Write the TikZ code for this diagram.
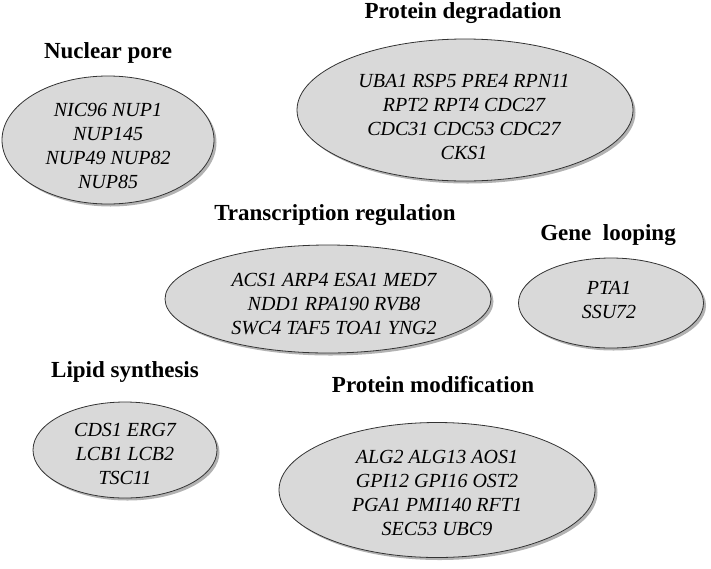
\documentclass[tikz,border=0pt]{standalone}
\usepackage{fontspec}
\setmainfont{Liberation Serif}
\usetikzlibrary{positioning,shapes,shadows}

\begin{document}
\begin{tikzpicture}[x=1pt, y=-1pt,
        grp/.style = {draw=black!80, line width=0.8pt, ellipse, fill=black!15,
                      inner sep=0pt,
                      drop shadow={shadow xshift=2.5pt, shadow yshift=-2.5pt,
                                   fill=black, opacity=.3}},
        ttl/.style = {font=\bfseries\fontsize{23}{26}\selectfont, inner sep=0pt},
        genes/.style = {align=center, inner sep=0pt,
                        font=\itshape\fontsize{20}{24}\selectfont}]
            \useasboundingbox (0,0) rectangle (711,568);
            % nuclear pore
            \node[ttl] (t1) at (108,53) {Nuclear pore};
            \node[grp, minimum width=212pt, minimum height=128pt] (e1) at (108,140) {};
            \node[genes] (g1) at (108,146) {NIC96 NUP1\\ NUP145\\ NUP49 NUP82\\ NUP85};
            % protein degradation
            \node[ttl] (t2) at (463,13) {Protein degradation};
            \node[grp, minimum width=336pt, minimum height=142pt] (e2) at (465,110) {};
            \node[genes] (g2) at (464,117) {UBA1 RSP5 PRE4 RPN11\\ RPT2 RPT4 CDC27\\ CDC31 CDC53 CDC27\\ CKS1};
            % transcription regulation
            \node[ttl] (t3) at (335,215) {Transcription regulation};
            \node[grp, minimum width=326pt, minimum height=108pt] (e3) at (328,299) {};
            \node[genes] (g3) at (334,304) {ACS1 ARP4 ESA1 MED7\\ NDD1 RPA190 RVB8\\ SWC4 TAF5 TOA1 YNG2};
            % gene looping
            \node[ttl] (t4) at (608,235) {Gene \ looping};
            \node[grp, minimum width=185pt, minimum height=90pt] (e4) at (611,303) {};
            \node[genes] (g4) at (609,300) {PTA1\\ SSU72};
            % lipid synthesis
            \node[ttl] (t5) at (125,372) {Lipid synthesis};
            \node[grp, minimum width=184pt, minimum height=96pt] (e5) at (125,450) {};
            \node[genes] (g5) at (125,454) {CDS1 ERG7\\ LCB1 LCB2\\ TSC11};
            % protein modification
            \node[ttl] (t6) at (433,385) {Protein modification};
            \node[grp, minimum width=316pt, minimum height=135pt] (e6) at (437,490) {};
            \node[genes] (g6) at (437,493) {ALG2 ALG13 AOS1\\ GPI12 GPI16 OST2\\ PGA1 PMI140 RFT1\\ SEC53 UBC9};
\end{tikzpicture}
\end{document}
